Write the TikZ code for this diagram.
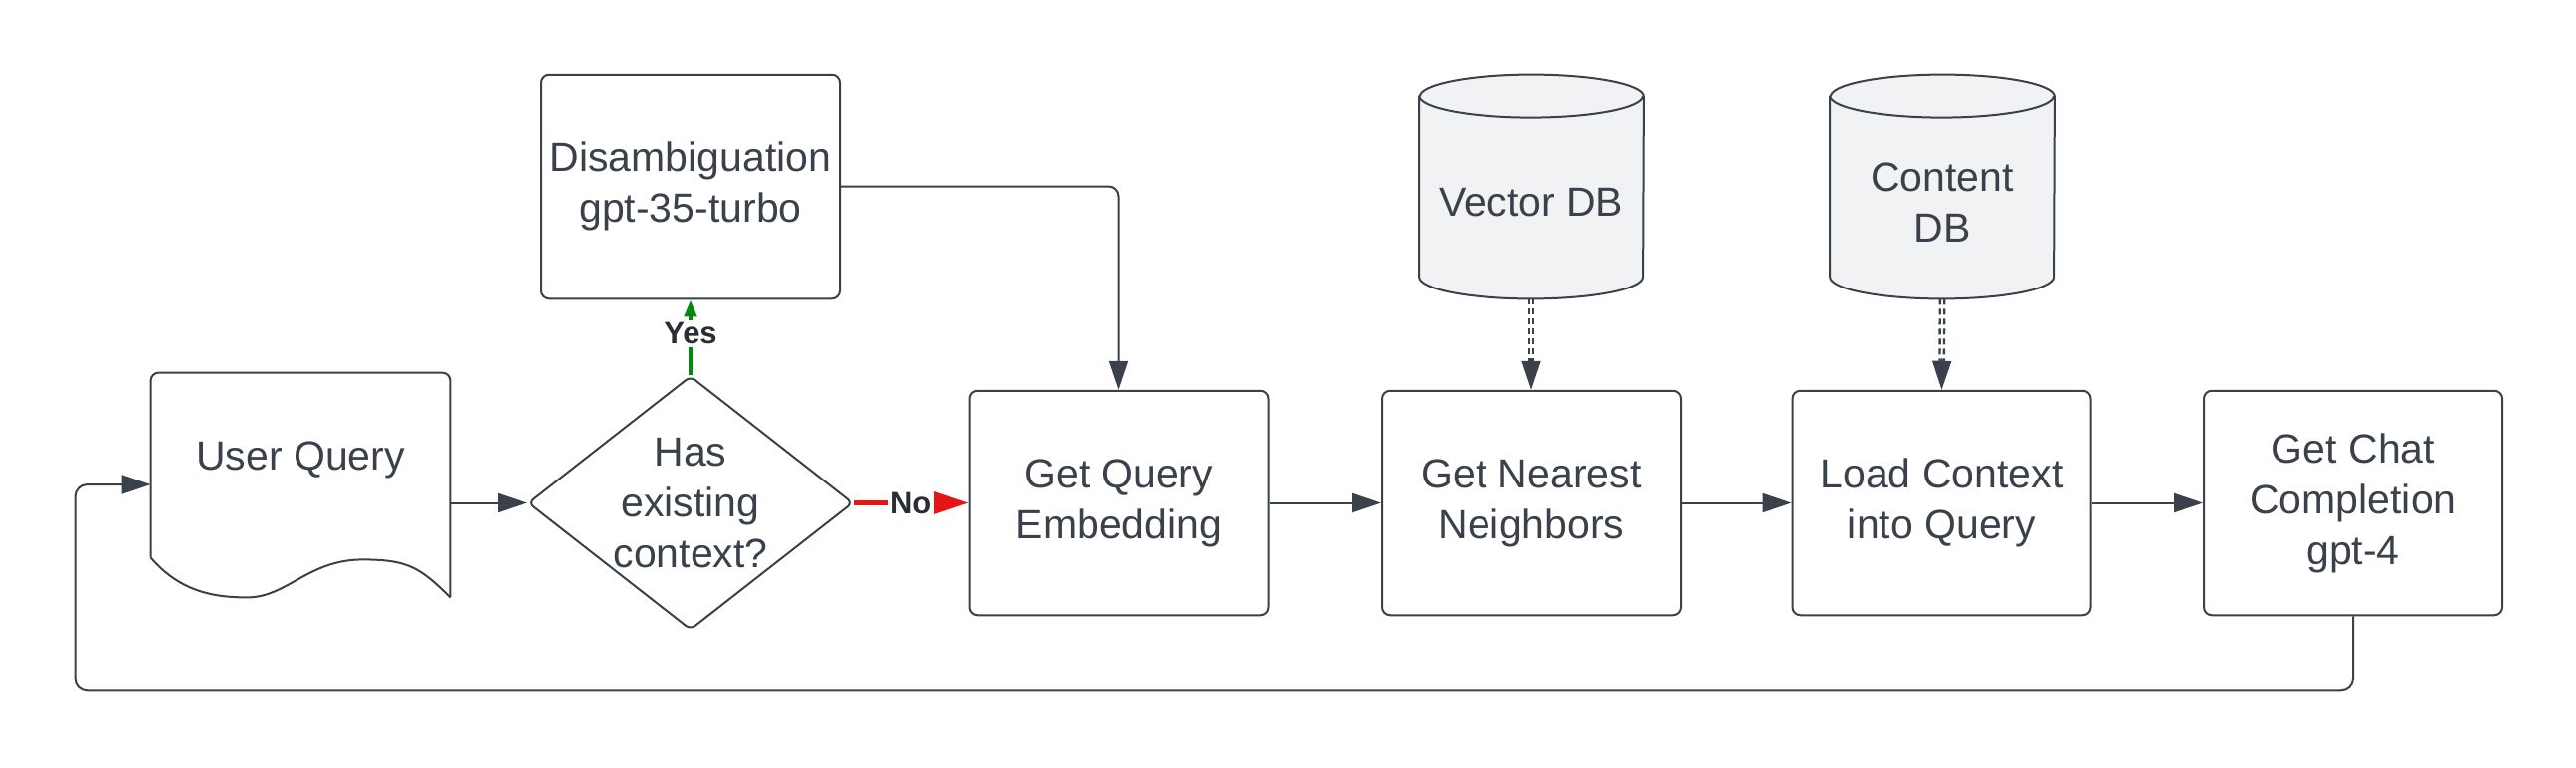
\documentclass[tikz,border=0pt]{standalone}
\usepackage{fontspec}
\setmainfont{Liberation Sans}
\usepackage{tikz}
\usetikzlibrary{shapes,arrows.meta,positioning,calc,backgrounds}
\definecolor{ink}{HTML}{3A414A}
\definecolor{dbgray}{HTML}{F1F2F4}
\definecolor{yesgreen}{HTML}{008A0E}
\definecolor{nored}{HTML}{E51616}
\tikzset{
    boxfont/.style={text=ink, font=\fontsize{20.5}{25.5}\selectfont, align=center, inner sep=0pt},
    process/.style={boxfont, draw=ink, line width=1pt, rectangle, minimum width=150pt, minimum height=112.75pt, rounded corners=4pt},
    decision/.style={boxfont, draw=ink, line width=1pt, diamond, minimum width=163pt, minimum height=127.5pt, inner sep=-12pt, rounded corners=3pt},
    doc/.style={boxfont, minimum width=150pt, minimum height=87pt},
    dbase/.style={boxfont, minimum width=112.5pt, minimum height=96pt},
    outline/.style={draw=ink, line width=1pt},
    arrow/.style={-{Triangle[length=14.5pt, width=9.5pt]}, draw=ink, line width=1pt},
    dbdash/.style={draw=ink, line width=1.2pt, dash pattern=on 3pt off 2pt, shorten >=10pt},
    yesline/.style={-{Triangle[length=8.5pt, width=6pt]}, draw=yesgreen, line width=2.2pt},
    noline/.style={-{Triangle[length=17.5pt, width=11pt]}, draw=nored, line width=2.2pt},
    answer/.style={fill=white, text=ink!70!black, font=\bfseries\fontsize{15.5}{18}\selectfont, inner sep=1.5pt}
}
\begin{document}
\begin{tikzpicture}[x=0.5pt, y=-0.5pt]
    \useasboundingbox (0,0) rectangle (2589,771);

    \node[doc] (query) at (302,462) {User Query};
    \node[decision] (dec) at (694,505.5) {Has\\existing\\context?};
    \node[process] (dis) at (694,187.5) {Disambiguation\\gpt-35-turbo};
    \node[process] (gq) at (1124.5,505.5) {Get Query\\Embedding};
    \node[process] (nn) at (1539,505.5) {Get Nearest\\Neighbors};
    \node[process] (lc) at (1951.5,505.5) {Load Context\\into Query};
    \node[process] (chat) at (2365,505.5) {Get Chat\\Completion\\gpt-4};
    \node[dbase] (vdb) at (1539,204) {Vector DB};
    \node[dbase] (cdb) at (1952,204) {Content\\DB};

    % document shape with wavy bottom
    \draw[outline, rounded corners=4pt] ($(query.south west)+(0,11)$) -- (query.north west) -- (query.north east) -- ($(query.south east)+(0,51)$);
    \draw[outline] ($(query.south west)+(0,11)$) .. controls +(30,35) and +(-32,0) .. ($(query.south west)+(97,51)$) .. controls +(40,0) and +(-55,0) .. ($(query.south west)+(213,13)$) .. controls +(45,0) and +(-30,-30) .. ($(query.south east)+(0,51)$);

    % cylinders
    \begin{scope}[on background layer]
    \foreach \db in {vdb,cdb} {
        \draw[outline, fill=dbgray] ($(\db.north west)+(0,-11)$) -- ($(\db.south west)+(0,-22)$) arc[start angle=180, end angle=360, x radius=56.25pt, y radius=11pt] -- ($(\db.north east)+(0,-11)$) arc[start angle=0, end angle=180, x radius=56.25pt, y radius=11pt] -- cycle;
        \draw[outline] ($(\db.north west)+(0,-11)$) arc[start angle=180, end angle=360, x radius=56.25pt, y radius=11pt];
    }
    \end{scope}

    \draw[arrow] (query.east |- dec.west) -- (dec.west);
    \draw[yesline] (dec.north) -- node[answer, pos=0.55] (yes) {Yes} (dis.south);
    \draw[noline] (dec.east) -- node[answer, pos=0.5] (no) {No} (gq.west);
    \draw[arrow, rounded corners=5pt] (dis.east) -| (gq.north);
    \draw[arrow] (gq) -- (nn);
    \draw[arrow] (nn) -- (lc);
    \draw[arrow] (lc) -- (chat);
    \draw[arrow, rounded corners=6pt] (chat.south) -- ++(0,75) -| ($(query.west)+(-76,25)$) -- ($(query.west)+(0,25)$);

    \foreach \src/\dst in {vdb/nn, cdb/lc} {
        \draw[dbdash, transform canvas={xshift=-1.1pt}] (\src.south) -- (\dst.north);
        \draw[dbdash, transform canvas={xshift=1.1pt}] (\src.south) -- (\dst.north);
        \draw[arrow, shorten <=30pt] (\src.south) -- (\dst.north);
    }
\end{tikzpicture}
\end{document}
